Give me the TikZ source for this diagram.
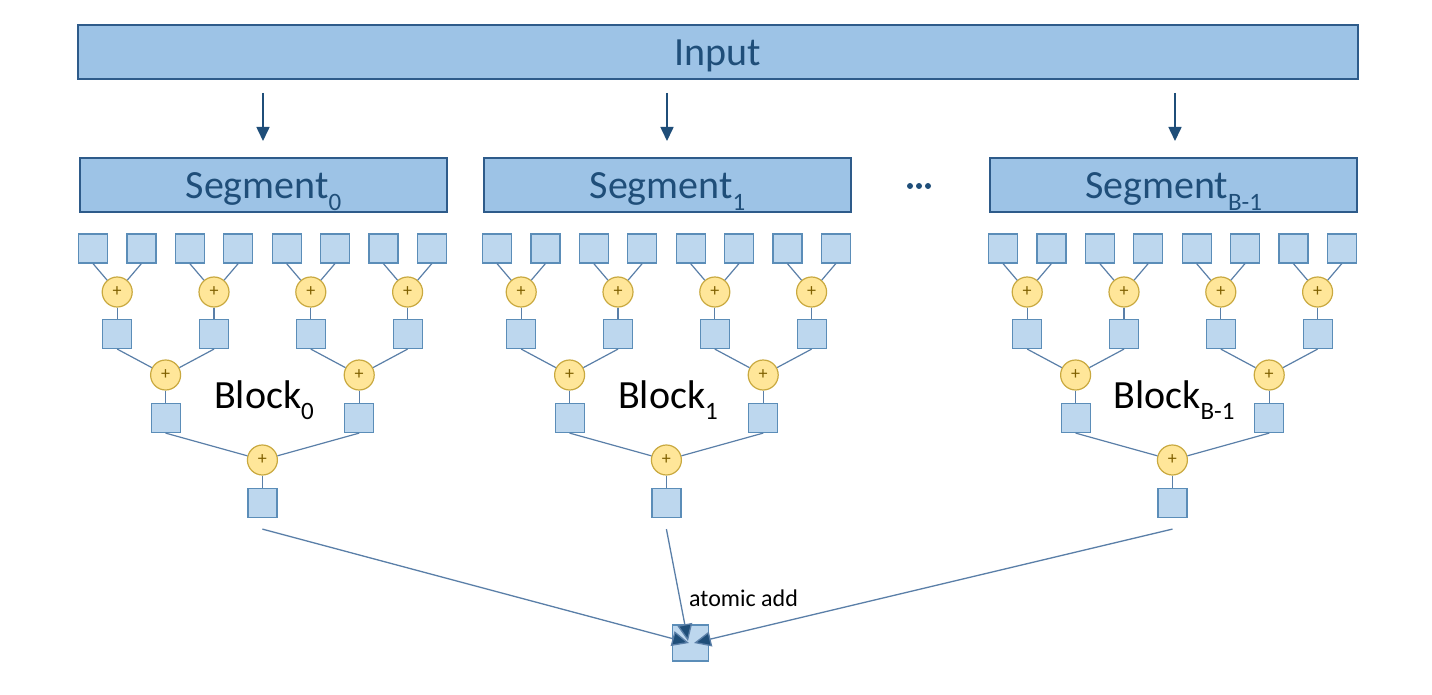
\documentclass[tikz,border=0pt]{standalone}
\usepackage{fontspec}
\setmainfont{Carlito}
\usetikzlibrary{arrows.meta}
\definecolor{segfill}{HTML}{9DC3E6}
\definecolor{segdraw}{HTML}{2E5B8A}
\definecolor{segtext}{HTML}{1F4E79}
\definecolor{sqfill}{HTML}{BDD7EE}
\definecolor{sqdraw}{HTML}{5B8DB8}
\definecolor{cfill}{HTML}{FFE699}
\definecolor{cdraw}{HTML}{C9A93F}
\definecolor{cplus}{HTML}{7F6000}
\definecolor{linec}{HTML}{5A7FA8}
\definecolor{arrc}{HTML}{1F4E79}
\tikzset{
  bigbox/.style={draw=segdraw, fill=segfill, line width=2pt, text=segtext, inner sep=0pt,
    text height=34pt, text depth=6pt, font=\fontsize{40}{48}\selectfont},
  sq/.style={draw=sqdraw, fill=sqfill, line width=1.2pt, minimum size=29pt, inner sep=0pt},
  adder/.style={circle, draw=cdraw, fill=cfill, line width=1.2pt, minimum size=30pt, inner sep=0pt,
    text=cplus, font=\fontsize{18}{18}\selectfont},
  tl/.style={draw=linec, line width=1.2pt},
  inarr/.style={draw=arrc, line width=1.6pt, -{Triangle[length=14pt,width=13pt]}},
  atarr/.style={draw=linec, line width=1.3pt, -{Triangle[length=17pt,width=15pt,fill=arrc]}},
  blab/.style={font=\fontsize{40}{48}\selectfont, text=black},
}
\newcommand{\sub}[1]{\raisebox{-0.28em}{\fontsize{25}{25}\selectfont #1}}
\newcommand{\mytree}[3]{%
\begin{scope}[xshift=#2pt]
  \foreach \j in {0,...,7} { \node[sq] (l#1-\j) at ({93+48.4*\j},248.5) {}; }
  \foreach \k in {0,...,3} {
    \node[adder] (a#1-\k) at ({117.2+96.8*\k},292) {+};
    \node[sq] (s#1-\k) at ({117.2+96.8*\k},334) {};
  }
  \foreach \k in {0,1} {
    \node[adder] (b#1-\k) at ({165.6+193.6*\k},375) {+};
    \node[sq] (t#1-\k) at ({165.6+193.6*\k},418) {};
  }
  \node[adder] (c#1) at (262.4,460) {+};
  \node[sq] (f#1) at (262.4,503) {};
  \node[blab] (bl#1) at (264,400) {Block\sub{#3}};
  \draw[tl] (l#1-0.south) -- (a#1-0); \draw[tl] (l#1-1.south) -- (a#1-0);
  \draw[tl] (l#1-2.south) -- (a#1-1); \draw[tl] (l#1-3.south) -- (a#1-1);
  \draw[tl] (l#1-4.south) -- (a#1-2); \draw[tl] (l#1-5.south) -- (a#1-2);
  \draw[tl] (l#1-6.south) -- (a#1-3); \draw[tl] (l#1-7.south) -- (a#1-3);
  \foreach \k in {0,...,3} { \draw[tl] (a#1-\k) -- (s#1-\k); }
  \draw[tl] (s#1-0.south) -- (b#1-0); \draw[tl] (s#1-1.south) -- (b#1-0);
  \draw[tl] (s#1-2.south) -- (b#1-1); \draw[tl] (s#1-3.south) -- (b#1-1);
  \foreach \k in {0,1} { \draw[tl] (b#1-\k) -- (t#1-\k); }
  \draw[tl] (t#1-0.south) -- (c#1); \draw[tl] (t#1-1.south) -- (c#1);
  \draw[tl] (c#1) -- (f#1);
\end{scope}}
\begin{document}
\begin{tikzpicture}[x=1pt,y=-1pt]
\useasboundingbox (0,0) rectangle (1432,695);
\fill[white] (0,0) rectangle (1432,695);
% input
\node[bigbox, minimum width=1280pt, minimum height=54pt] (input) at (718,52) {Input};
% segments
\node[bigbox, minimum width=367pt, minimum height=54pt] (seg0) at (263.5,185) {Segment\sub{0}};
\node[bigbox, minimum width=367pt, minimum height=54pt] (seg1) at (667.5,185) {Segment\sub{1}};
\node[bigbox, minimum width=367pt, minimum height=54pt] (seg2) at (1173.5,185) {Segment\sub{B-1}};
\foreach \d in {0,1,2} { \fill[segtext] ({910+9*\d},186) circle (3pt); }
\node[inner sep=0pt] (dots) at (919,186) {};
% input arrows
\coordinate (i0) at (263,93); \coordinate (i1) at (667,93); \coordinate (i2) at (1175,93);
\coordinate (e0) at (263,141); \coordinate (e1) at (667,141); \coordinate (e2) at (1175,141);
\draw[inarr] (i0) -- (e0);
\draw[inarr] (i1) -- (e1);
\draw[inarr] (i2) -- (e2);
% trees
\mytree{0}{0}{0}
\mytree{1}{404}{1}
\mytree{2}{910}{B-1}
% atomic
\node[sq, minimum size=36pt] (atom) at (690.5,643) {};
\coordinate (tipL) at (689,643);
\coordinate (tipT) at (688,641);
\coordinate (tipR) at (694,643);
\draw[atarr] ([yshift=-11pt]f0.south) -- (tipL);
\draw[atarr] ([yshift=-11pt]f1.south) -- (tipT);
\draw[atarr] ([yshift=-11pt]f2.south) -- (tipR);
\node[anchor=west, font=\fontsize{24}{24}\selectfont, text=black, inner sep=0pt] (lab) at (689,598) {atomic add};
\end{tikzpicture}
\end{document}
